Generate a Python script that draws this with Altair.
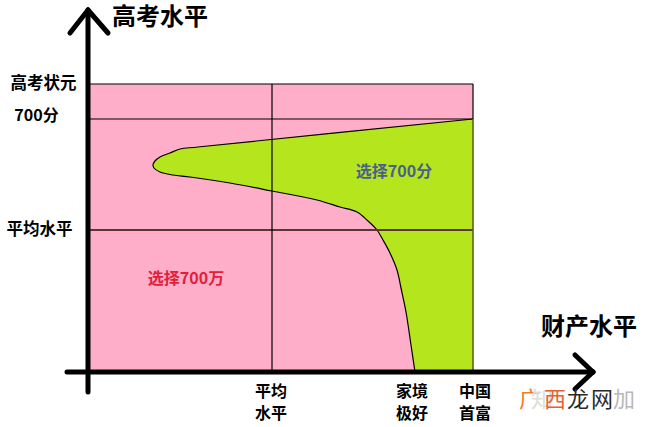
import altair as alt
import pandas as pd

FONT = "Noto Sans CJK SC"
PINK = "#FFAEC9"
GREEN = "#B5E61D"

# ---- levels (data units: origin at the axes crossing) ----
wealth_names_1 = ["平均", "家境", "中国"]
wealth_names_2 = ["水平", "极好", "首富"]
wealth_values = [184, 326, 385]          # 平均水平, 家境极好, 中国首富
score_names = ["高考状元", "700分", "平均水平"]
score_values = [288, 253, 142]

# ---- boundary between "选择700万" and "选择700分" (ordered by score) ----
boundary_wealth = [327, 323, 318, 313, 309, 302, 295, 289, 280, 269, 252, 229,
                   184, 142, 102, 85, 72, 66, 65, 67, 72, 82, 92, 110, 385]
boundary_score = [0, 27, 60, 84, 102, 119, 132, 142, 151, 160, 165, 172,
                  181, 189, 195, 197, 200, 204, 207, 211, 215, 219, 223, 225, 253]

xs = alt.Scale(domain=[-88, 563], nice=False, zero=False)
ys = alt.Scale(domain=[-55, 372], nice=False, zero=False)

def X(f):
    return alt.X(f, type="quantitative", scale=xs, axis=None)

def Y(f):
    return alt.Y(f, type="quantitative", scale=ys, axis=None)

top = score_values[0]
right = wealth_values[2]

# pink background region
pink = alt.Chart(pd.DataFrame({"x": [0], "x2": [right], "y": [0], "y2": [top]})).mark_rect(
    color=PINK).encode(x=X("x"), x2="x2", y=Y("y"), y2="y2")

curve = pd.DataFrame({"bx": boundary_wealth, "by": boundary_score, "rx": [right] * len(boundary_wealth)})
green = alt.Chart(curve).mark_area(orient="horizontal", color=GREEN, interpolate="catmull-rom").encode(
    x=X("bx"), x2="rx", y=Y("by"))
outline = alt.Chart(curve).mark_line(color="black", strokeWidth=1.2, interpolate="catmull-rom").encode(
    x=X("bx"), y=Y("by"), order=alt.Order("by:Q"))

# thin grid lines
seg = pd.DataFrame({
    "x":  [0, 0, 0, wealth_values[0], right, right],
    "x2": [right, right, right, wealth_values[0], right, right],
    "y":  [score_values[0], score_values[1], score_values[2], 0, 0, score_values[1]],
    "y2": [score_values[0], score_values[1], score_values[2], top, score_values[1], top],
    "c":  ["black", "black", "#5a3438", "black", "#55660f", "black"],
    "w":  [1.2, 1.2, 2, 1.2, 1.6, 1.2],
})
grid = alt.Chart(seg).mark_rule().encode(
    x=X("x"), x2="x2", y=Y("y"), y2="y2",
    color=alt.Color("c:N", scale=None), strokeWidth=alt.StrokeWidth("w:Q", scale=None))

# thick axes with arrows
ax = pd.DataFrame({
    "x":  [0, -21, -18, 20, 487, 487],
    "y":  [-20, 0, 339, 339, 17, -17],
    "x2": [0, 505, 0, 0, 505, 505],
    "y2": [362, 0, 362, 362, 0, 0],
})
axes = alt.Chart(ax).mark_rule(color="black", strokeWidth=5, strokeCap="round").encode(
    x=X("x"), x2="x2", y=Y("y"), y2="y2")

# texts
txt = pd.DataFrame({
    "t": ["高考水平", "财产水平", "高考状元", "700分", "平均水平",
          "选择700万", "选择700分"] + wealth_names_1 + wealth_names_2,
    "x": [24, 453, -44.5, -51.5, -48.5, 98, 306] + [183, 324, 387] + [183, 324, 387],
    "y": [354, 44, score_values[0], 256, score_values[2], 93, 200] + [-20] * 3 + [-42] * 3,
    "s": [24, 24, 16.5, 16, 16.5, 16, 16] + [16] * 6,
    "a": ["left", "left", "center", "center", "center", "center", "center"] + ["center"] * 6,
    "c": ["black"] * 5 + ["#E0203C", "#4A5F8E"] + ["black"] * 6,
})
texts = []
for al in ["left", "center"]:
    texts.append(alt.Chart(txt[txt["a"] == al]).mark_text(
        font=FONT, fontWeight="bold", align=al, baseline="middle").encode(
        x=X("x"), y=Y("y"), text="t:N",
        color=alt.Color("c:N", scale=None), size=alt.Size("s:Q", scale=None)))

# watermark
wm = pd.DataFrame({
    "t": ["广", "知", "西", "龙", "网", "加"],
    "x": [442, 454, 467, 490, 514, 536],
    "y": [-28] * 6,
    "c": ["#F07C28", "#dddddd", "#E8602C", "#2a2a2a", "#2a2a2a", "#b8b8b8"],
})
water = alt.Chart(wm).mark_text(font=FONT, fontSize=22, align="center", baseline="middle").encode(
    x=X("x"), y=Y("y"), text="t:N", color=alt.Color("c:N", scale=None))

chart = alt.layer(pink, green, outline, grid, axes, *texts, water).properties(
    width=651, height=427, padding=0, autosize="none", background="white"
).configure_view(stroke=None)

chart.save("out.html", embed_options={"renderer": "svg", "actions": False})
